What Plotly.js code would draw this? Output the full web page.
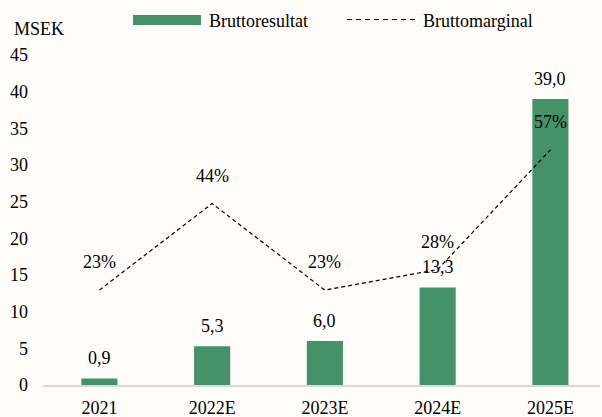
<!DOCTYPE html>
<html>
<head>
<meta charset="utf-8">
<script src="https://cdn.plot.ly/plotly-3.0.1.min.js"></script>
<style>html,body{margin:0;padding:0;background:#fdfcf8;}#chart{width:602px;height:417px;}</style>
</head>
<body>
<div id="chart"></div>
<script>
const categories = ['2021', '2022E', '2023E', '2024E', '2025E'];
const grossProfit = [0.9, 5.3, 6.0, 13.3, 39.0];
const grossMargin = [0.23, 0.44, 0.23, 0.28, 0.57];
const yTicks = [0, 5, 10, 15, 20, 25, 30, 35, 40, 45];
const seriesNames = ['Bruttoresultat', 'Bruttomarginal'];
const unitLabel = 'MSEK';

const W = 602, H = 417;
const M = {l: 43, r: 2, t: 55, b: 32};
const PW = W - M.l - M.r, PH = H - M.t - M.b;
const px = v => (v - M.l) / PW;
const py = v => (H - M.b - v) / PH;

const FONT = '"Liberation Serif", "Times New Roman", Times, serif';
const GREEN = '#45916a';

const fmt1 = v => v.toFixed(1).replace('.', ',');
const fmtPct = v => Math.round(v * 100) + '%';

const traces = [
  {
    type: 'bar', x: categories, y: grossProfit, name: seriesNames[0],
    marker: {color: GREEN, line: {width: 0}}, width: 0.32,
    hoverinfo: 'skip', showlegend: false
  },
  {
    type: 'scatter', mode: 'lines', x: categories, y: grossMargin, yaxis: 'y2',
    name: seriesNames[1], line: {color: '#000', width: 1.2, dash: '4px,3px'},
    hoverinfo: 'skip', showlegend: false
  }
];

const annotations = [];
categories.forEach((c, i) => {
  annotations.push({x: i, y: grossProfit[i], xref: 'x', yref: 'y', text: fmt1(grossProfit[i]),
    showarrow: false, yanchor: 'middle', xanchor: 'center', yshift: 20,
    font: {family: FONT, size: 18, color: '#000'}});
  annotations.push({x: i, y: grossMargin[i], xref: 'x', yref: 'y2', text: fmtPct(grossMargin[i]),
    showarrow: false, yanchor: 'middle', xanchor: 'center', yshift: 28,
    font: {family: FONT, size: 18, color: '#000'}});
});
annotations.push({x: px(12), y: py(29), xref: 'paper', yref: 'paper', text: unitLabel,
  showarrow: false, xanchor: 'left', yanchor: 'middle', font: {family: FONT, size: 18, color: '#000'}});
annotations.push({x: px(207), y: py(20.5), xref: 'paper', yref: 'paper', text: seriesNames[0],
  showarrow: false, xanchor: 'left', yanchor: 'middle', font: {family: FONT, size: 18, color: '#000'}});
annotations.push({x: px(421), y: py(20.5), xref: 'paper', yref: 'paper', text: seriesNames[1],
  showarrow: false, xanchor: 'left', yanchor: 'middle', font: {family: FONT, size: 18, color: '#000'}});

const shapes = [
  {type: 'rect', xref: 'paper', yref: 'paper', x0: px(133), x1: px(201), y0: py(25), y1: py(15),
   fillcolor: GREEN, line: {width: 0}},
  {type: 'line', xref: 'paper', yref: 'paper', x0: px(347), x1: px(415), y0: py(19.5), y1: py(19.5),
   line: {color: '#000', width: 1.2, dash: '5px,4px'}}
];

const layout = {
  width: W, height: H,
  margin: M,
  paper_bgcolor: '#fdfcf8', plot_bgcolor: '#fdfcf8',
  font: {family: FONT, size: 18, color: '#000'},
  showlegend: false,
  xaxis: {
    type: 'category', range: [-0.5, 4.44], fixedrange: true,
    showline: true, linecolor: '#d9d9d9', linewidth: 1.5,
    showgrid: false, zeroline: false, ticks: '',
    tickfont: {family: FONT, size: 18, color: '#000'}, ticklabelstandoff: 6
  },
  yaxis: {
    range: [0, 45], tickvals: yTicks, ticktext: yTicks.map(String),
    showline: false, showgrid: false, zeroline: false, ticks: '',
    tickfont: {family: FONT, size: 18, color: '#000'}, ticklabelstandoff: 14
  },
  yaxis2: {range: [0, 0.8], overlaying: 'y', visible: false, showgrid: false, zeroline: false},
  annotations: annotations,
  shapes: shapes
};

Plotly.newPlot('chart', traces, layout, {staticPlot: true, displayModeBar: false});
</script>
</body>
</html>
